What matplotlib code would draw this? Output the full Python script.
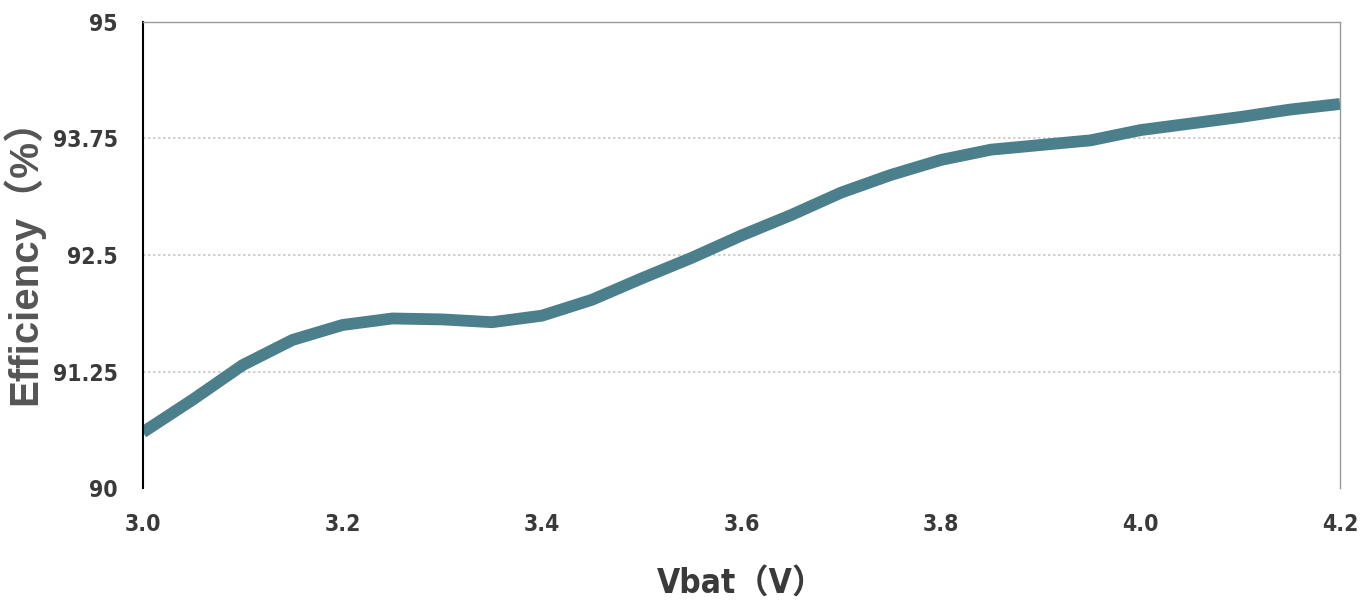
import matplotlib.pyplot as plt

vbat = [3.0, 3.05, 3.1, 3.15, 3.2, 3.25, 3.3, 3.35, 3.4, 3.45, 3.5, 3.55,
        3.6, 3.65, 3.7, 3.75, 3.8, 3.85, 3.9, 3.95, 4.0, 4.05, 4.1, 4.15, 4.2]
eff = [90.60, 90.95, 91.32, 91.59, 91.75, 91.82, 91.81, 91.78, 91.85, 92.02,
       92.25, 92.47, 92.71, 92.93, 93.17, 93.36, 93.52, 93.63, 93.68, 93.73,
       93.84, 93.91, 93.98, 94.06, 94.12]

x_ticks = [3.0, 3.2, 3.4, 3.6, 3.8, 4.0, 4.2]
x_labels = ["3.0", "3.2", "3.4", "3.6", "3.8", "4.0", "4.2"]
y_ticks = [90, 91.25, 92.5, 93.75, 95]
y_labels = ["90", "91.25", "92.5", "93.75", "95"]

tick_font = dict(family="DejaVu Sans", stretch="condensed", fontsize=16.5,
                 fontweight="bold", color="#3a3a3a")

fig = plt.figure(figsize=(13.61, 6.08), dpi=100)
ax = fig.add_axes([0.105, 0.197, 0.8796, 0.767])

ax.plot(vbat, eff, color="#4b7f8b", lw=8.5, solid_capstyle="butt")

ax.set_xlim(3.0, 4.2)
ax.set_ylim(90, 95)
ax.set_xticks(x_ticks)
ax.set_xticklabels(x_labels, **tick_font)
ax.set_yticks(y_ticks)
ax.set_yticklabels(y_labels, **tick_font)
ax.tick_params(length=0, pad=18)
ax.tick_params(axis="x", pad=18)

for y in y_ticks[1:4]:
    ax.axhline(y, color="#c8c8c8", lw=1.2, ls=(0, (1.5, 1.5)), zorder=0)

ax.spines["bottom"].set_visible(False)
ax.spines["left"].set_color("black")
ax.spines["left"].set_linewidth(1.5)
ax.spines["top"].set_color("#9a9a9a")
ax.spines["top"].set_linewidth(1.0)
ax.spines["right"].set_color("#9a9a9a")
ax.spines["right"].set_linewidth(1.0)

ax.set_xlabel("Vbat（V）", family=["DejaVu Sans", "Noto Sans CJK SC"], stretch="condensed",
              fontsize=24, fontweight="bold", color="#3a3a3a", labelpad=22)
ax.set_ylabel("Efficiency（%）", family=["Liberation Sans", "Noto Sans CJK SC"],
              fontsize=29, fontweight="bold", color="#555555")
ax.yaxis.set_label_coords(-0.082, 0.506)

fig.savefig("out.png", dpi=100)
